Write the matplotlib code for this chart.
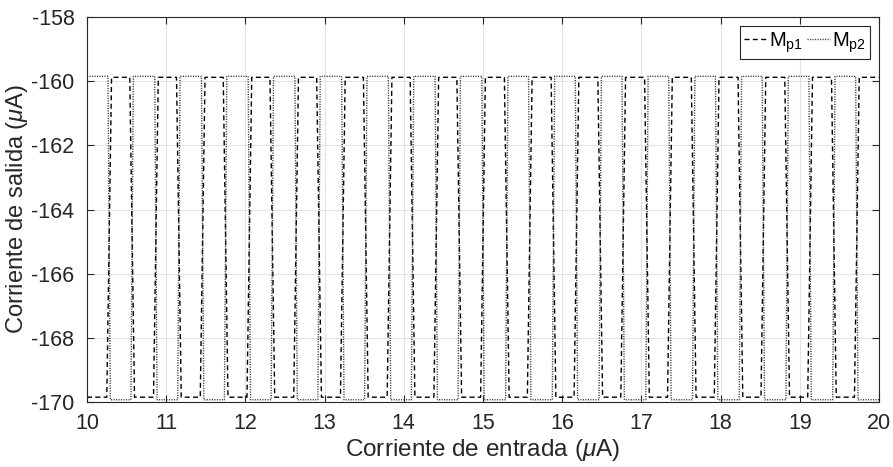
import numpy as np
import matplotlib.pyplot as plt

plt.rcParams['font.family'] = ['Liberation Sans', 'DejaVu Sans']
plt.rcParams['mathtext.fontset'] = 'custom'
plt.rcParams['mathtext.rm'] = 'Liberation Sans'
plt.rcParams['mathtext.it'] = 'Liberation Sans:italic'
plt.rcParams['mathtext.default'] = 'regular'
plt.rcParams['axes.unicode_minus'] = False

# crossing points of the two outputs (uA), alternating fall/rise of Mp2
edges = [10.28, 10.57, 10.87, 11.16, 11.46, 11.75, 12.05, 12.34,
         12.64, 12.93, 13.23, 13.52, 13.82, 14.11, 14.41, 14.70,
         15.00, 15.30, 15.59, 15.89, 16.18, 16.48, 16.77, 17.07,
         17.36, 17.66, 17.95, 18.25, 18.54, 18.84, 19.13, 19.43,
         19.72]

# output levels (uA)
mp1_low, mp1_high = -169.85, -159.88
mp2_low, mp2_high = -169.93, -159.85

x_range = (10, 20)
y_range = (-170, -158)
x_ticks = np.arange(10, 21, 1)
y_ticks = np.arange(-170, -157, 2)


def wave(edges, start_high, low, high, ramp):
    state = start_high
    xs = [x_range[0]]
    ys = [high if state else low]
    for e in edges:
        cur = high if state else low
        state = not state
        nxt = high if state else low
        xs += [e - ramp / 2, e + ramp / 2]
        ys += [cur, nxt]
    xs.append(x_range[1])
    ys.append(high if state else low)
    return xs, ys


fig = plt.figure(figsize=(8.93, 4.67), dpi=100)
ax = fig.add_axes([87 / 893, 1 - 402 / 467, 792 / 893, 385 / 467])

x1, y1 = wave(edges, False, mp1_low, mp1_high, 0.06)
x2, y2 = wave(edges, True, mp2_low, mp2_high, 0.03)
ax.plot(x1, y1, color='black', lw=1.0, linestyle=(0, (3.6, 2.4)), label='$M_{p1}$')
ax.plot(x2, y2, color='#333333', lw=1.0, linestyle=(0, (0.8, 1.0)), label='$M_{p2}$')

ax.set_xlim(*x_range)
ax.set_ylim(*y_range)
ax.set_xticks(x_ticks)
ax.set_yticks(y_ticks)
ax.grid(True, color='#e3e3e3', lw=0.8)
ax.set_axisbelow(True)
ax.tick_params(direction='in', top=True, right=True, length=5, width=0.8,
               labelsize=15.5, colors='#262626')
ax.tick_params(axis='x', pad=8)
ax.tick_params(axis='y', pad=9)
for s in ax.spines.values():
    s.set_color('#262626')
    s.set_linewidth(0.8)

ax.set_xlabel('Corriente de entrada ($\\mathit{\\mu}$A)', fontsize=17.5, color='#262626', labelpad=2)
ax.set_ylabel('Corriente de salida ($\\mathit{\\mu}$A)', fontsize=17, color='#262626', labelpad=1)

leg = ax.legend(loc='upper right', ncol=2, fontsize=14.5, handlelength=1.15,
                handletextpad=0.1, columnspacing=0.2, borderpad=0.2,
                fancybox=False, framealpha=1, edgecolor='#262626',
                borderaxespad=0.45)
leg.get_frame().set_linewidth(0.8)

fig.savefig('out.png', dpi=100)
